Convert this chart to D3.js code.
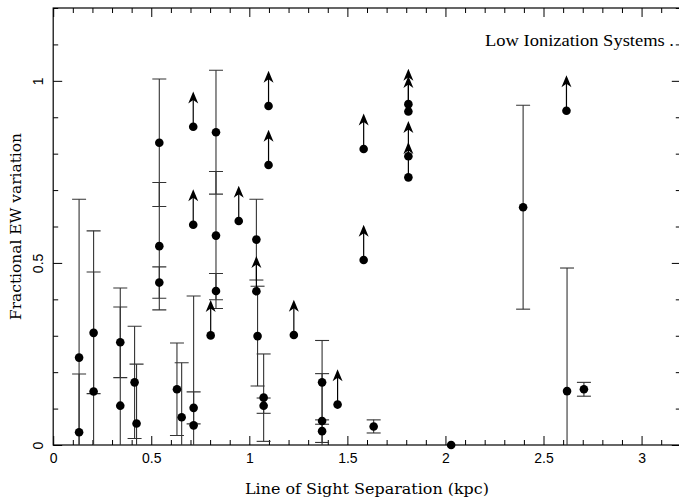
<!DOCTYPE html>
<html><head><meta charset="utf-8">
<script src="https://cdn.jsdelivr.net/npm/d3@7"></script>
<style>
body{margin:0;background:#fff;}
svg{display:block;}
.tick text{font-family:"Liberation Sans","DejaVu Sans",sans-serif;}
</style></head>
<body>
<svg id="chart" width="679" height="498"></svg>
<script>
// ---------- data ----------
// points with symmetric error bars
const ebX   = [0.132,0.132,0.206,0.206,0.342,0.342,0.415,0.425,0.541,0.541,0.541,0.631,0.655,0.716,0.716,0.830,0.830,0.830,1.036,1.042,1.073,1.073,1.371,1.371,1.371,1.634,2.396,2.620,2.706];
const ebY   = [0.240,0.035,0.308,0.147,0.282,0.108,0.172,0.059,0.830,0.546,0.446,0.153,0.076,0.102,0.054,0.859,0.575,0.423,0.564,0.299,0.130,0.108,0.172,0.066,0.038,0.051,0.653,0.148,0.153];
const ebErr = [0.435,0.160,0.167,0.441,0.097,0.323,0.154,0.163,0.175,0.175,0.043,0.127,0.150,0.044,0.355,0.170,0.176,0.048,0.111,0.137,0.120,0.021,0.115,0.130,0.031,0.018,0.280,0.338,0.019];
// lower limits (arrows)
const limX = [0.714,0.714,0.803,0.946,1.036,1.098,1.098,1.227,1.450,1.583,1.583,1.811,1.811,1.811,1.811,2.617];
const limY = [0.874,0.605,0.301,0.615,0.422,0.931,0.769,0.302,0.111,0.813,0.508,0.936,0.916,0.793,0.735,0.918];
// plain points
const ptX = [2.029];
const ptY = [0.000];
// ticks
const xMajor = [0,0.5,1,1.5,2,2.5,3];
const xTickLabels = ["0","0.5","1","1.5","2","2.5","3"];
const yMajor = [0,0.5,1];
const yTickLabels = ["0","0.5","1"];
const xLabel = "Line of Sight Separation (kpc)";
const yLabel = "Fractional EW variation";
const legendText = "Low Ionization Systems .";

// ---------- layout ----------
const svg = d3.select("#chart");
const x = d3.scaleLinear().domain([0,3.2]).range([53.2,680.8]);
const y = d3.scaleLinear().domain([0,1.2]).range([445,8]);
const X0 = x.range()[0], X1 = x.range()[1], Y0 = y.range()[0], Y1 = y.range()[1];
const xMinor = d3.range(0,33).map(i=>i/10).filter(v=>xMajor.every(m=>Math.abs(m-v)>1e-6));
const yMinor = d3.range(0,13).map(i=>i/10).filter(v=>yMajor.every(m=>Math.abs(m-v)>1e-6));
const MAJ=9, MIN=5;

svg.append("defs").append("clipPath").attr("id","clip")
  .append("rect").attr("x",X0).attr("y",Y1).attr("width",X1-X0).attr("height",Y0-Y1);

function styleAxis(g){ g.select(".domain").remove(); g.selectAll(".tick line").attr("stroke","#000").attr("stroke-width",1); }

// bottom
svg.append("g").attr("transform",`translate(0,${Y0})`)
  .call(d3.axisBottom(x).tickValues(xMinor).tickSize(-MIN).tickFormat("")).call(styleAxis);
svg.append("g").attr("transform",`translate(0,${Y0})`)
  .call(d3.axisBottom(x).tickValues(xMajor).tickSize(-MAJ).tickPadding(8)
    .tickFormat((d,i)=>xTickLabels[i])).call(styleAxis)
  .selectAll("text").attr("font-size",14).attr("fill","#000");
// top
svg.append("g").attr("transform",`translate(0,${Y1})`)
  .call(d3.axisTop(x).tickValues(xMinor).tickSize(-MIN).tickFormat("")).call(styleAxis);
svg.append("g").attr("transform",`translate(0,${Y1})`)
  .call(d3.axisTop(x).tickValues(xMajor).tickSize(-MAJ).tickFormat("")).call(styleAxis);
// left
svg.append("g").attr("transform",`translate(${X0},0)`)
  .call(d3.axisLeft(y).tickValues(yMinor).tickSize(-MIN).tickFormat("")).call(styleAxis);
const gl = svg.append("g").attr("transform",`translate(${X0},0)`)
  .call(d3.axisLeft(y).tickValues(yMajor).tickSize(-MAJ).tickFormat((d,i)=>yTickLabels[i])).call(styleAxis);
gl.selectAll(".tick text").attr("font-size",14).attr("fill","#000")
  .attr("x",null).attr("dy",null).attr("text-anchor","middle")
  .attr("transform","translate(-10,0) rotate(-90)");
// right
svg.append("g").attr("transform",`translate(${X1},0)`)
  .call(d3.axisRight(y).tickValues(yMinor).tickSize(-MIN).tickFormat("")).call(styleAxis);
svg.append("g").attr("transform",`translate(${X1},0)`)
  .call(d3.axisRight(y).tickValues(yMajor).tickSize(-MAJ).tickFormat("")).call(styleAxis);

// frame
svg.append("rect").attr("x",X0).attr("y",Y1).attr("width",X1-X0).attr("height",Y0-Y1)
  .attr("fill","none").attr("stroke","#000").attr("stroke-width",1.2);

// ---------- marks ----------
const plot = svg.append("g").attr("clip-path","url(#clip)");
const eb = ebX.map((d,i)=>({x:d,y:ebY[i],e:ebErr[i]}));
const CAP=7;
const ge = plot.append("g").attr("stroke","#333").attr("stroke-width",1.1);
ge.selectAll("line.v").data(eb).join("line").attr("class","v")
  .attr("x1",d=>x(d.x)).attr("x2",d=>x(d.x))
  .attr("y1",d=>y(d.y-d.e)).attr("y2",d=>y(d.y+d.e));
ge.selectAll("line.ct").data(eb).join("line").attr("class","ct")
  .attr("x1",d=>x(d.x)-CAP).attr("x2",d=>x(d.x)+CAP)
  .attr("y1",d=>y(d.y+d.e)).attr("y2",d=>y(d.y+d.e));
ge.selectAll("line.cb").data(eb).join("line").attr("class","cb")
  .attr("x1",d=>x(d.x)-CAP).attr("x2",d=>x(d.x)+CAP)
  .attr("y1",d=>y(d.y-d.e)).attr("y2",d=>y(d.y-d.e));

const lim = limX.map((d,i)=>({x:d,y:limY[i]}));
const ARR = 0.097;
const ga = plot.append("g");
ga.selectAll("line").data(lim).join("line")
  .attr("x1",d=>x(d.x)).attr("x2",d=>x(d.x))
  .attr("y1",d=>y(d.y)).attr("y2",d=>y(d.y+ARR)+4)
  .attr("stroke","#000").attr("stroke-width",1.2);
ga.selectAll("path").data(lim).join("path")
  .attr("transform",d=>`translate(${x(d.x)},${y(d.y+ARR)})`)
  .attr("d","M0,0 L5,12 L0,8.5 L-5,12 Z").attr("fill","#000");

const allPts = eb.map(d=>({x:d.x,y:d.y}))
  .concat(lim).concat(ptX.map((d,i)=>({x:d,y:ptY[i]})));
svg.append("g").selectAll("circle").data(allPts).join("circle")
  .attr("cx",d=>x(d.x)).attr("cy",d=>y(d.y)).attr("r",4.3).attr("fill","#000");

// ---------- labels ----------
const serif = "'DejaVu Serif','Liberation Serif',serif";
svg.append("text").attr("x",(245+489)/2).attr("y",494).attr("text-anchor","middle")
  .attr("font-family",serif).attr("font-size",15.5).attr("textLength",244)
  .attr("lengthAdjust","spacingAndGlyphs").text(xLabel);
svg.append("text").attr("transform","translate(21,226.5) rotate(-90)").attr("text-anchor","middle")
  .attr("font-family",serif).attr("font-size",15.5).attr("textLength",187)
  .attr("lengthAdjust","spacingAndGlyphs").text(yLabel);
svg.append("text").attr("x",485).attr("y",46)
  .attr("font-family","'Liberation Serif',serif").attr("font-size",16.5).attr("textLength",189)
  .attr("lengthAdjust","spacingAndGlyphs").text(legendText);
</script>
</body></html>
